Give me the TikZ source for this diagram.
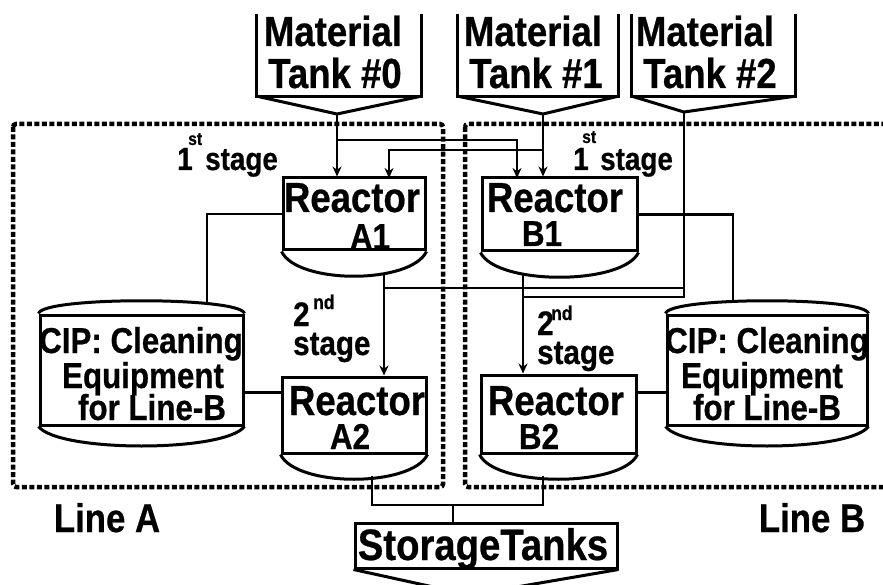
\documentclass[tikz,border=0pt]{standalone}
\usepackage{fontspec}
\newfontfamily\dfont{Liberation Sans}[FakeStretch=0.87, FakeBold=0.6]
\usetikzlibrary{arrows.meta,calc}
\tikzset{
 boxl/.style={line width=3pt, line join=miter},
 box/.style={draw, boxl, inner sep=0pt},
 ghost/.style={inner sep=0pt},
 conn/.style={line width=2.7pt},
 arr/.style={conn, -{Stealth[length=10pt,width=9pt]}},
 dashbox/.style={line width=4.5pt, dash pattern=on 5pt off 2.5pt, rounded corners=3pt},
 T/.style={font=\dfont\bfseries\fontsize{#1}{#1}\selectfont, inner sep=0pt, anchor=base},
}
\begin{document}
\begin{tikzpicture}[x=1pt,y=-1pt]
\useasboundingbox (0,0) rectangle (883,585);
% line boxes
\draw[dashbox] (13,124) rectangle (443,487);
\draw[dashbox] (465,124) rectangle (905,487);
% material tanks
\node[ghost, minimum width=164pt, minimum height=82pt] (T0) at (339,55) {};
\node[ghost, minimum width=160pt, minimum height=82pt] (T1) at (538,55) {};
\node[ghost, minimum width=163pt, minimum height=82pt] (T2) at (713.5,55) {};
\coordinate (T0tip) at (337,114);
\coordinate (T1tip) at (543,114);
\coordinate (T2tip) at (684,112);
\draw[boxl] (T0.north west) |- (T0.south east) -- (T0.north east);
\draw[boxl] (T0.south west) -- (T0tip) -- (T0.south east);
\draw[boxl] (T1.north west) |- (T1.south east) -- (T1.north east);
\draw[boxl] (T1.south west) -- (T1tip) -- (T1.south east);
\draw[boxl] (T2.north west) |- (T2.south east) -- (T2.north east);
\draw[boxl] (T2.south west) -- (T2tip) -- (T2.south east);
\node[T=42] at (333,46) {Material};
\node[T=42] at (335,88) {Tank \#0};
\node[T=42] at (533,46) {Material};
\node[T=42] at (536,88) {Tank \#1};
\node[T=42] at (705,46) {Material};
\node[T=42] at (710,88) {Tank \#2};
% reactors
\node[box, minimum width=142pt, minimum height=72pt] (A1) at (354,214) {};
\node[box, minimum width=155pt, minimum height=73pt] (B1) at (559.5,214.5) {};
\node[box, minimum width=144pt, minimum height=76pt] (A2) at (354,415) {};
\node[box, minimum width=155pt, minimum height=78pt] (B2) at (558.5,414) {};
\foreach \r in {A1,B1,A2,B2}
  \draw[boxl] (\r.south west) .. controls +(16,33) and +(-16,33) .. (\r.south east);
\node[T=42] at (352,212) {Reactor}; \node[T=36] at (370,249) {A1};
\node[T=42] at (555,212) {Reactor}; \node[T=36] at (542,246) {B1};
\node[T=42] at (357,415) {Reactor}; \node[T=36] at (350,449) {A2};
\node[T=42] at (556,415) {Reactor}; \node[T=36] at (539,449) {B2};
% CIP
\node[box, minimum width=203pt, minimum height=110pt] (CA) at (141.5,370) {};
\node[box, minimum width=200pt, minimum height=110pt] (CB) at (767,370) {};
\foreach \c in {CA,CB} {
  \draw[boxl] (\c.north west) .. controls +(4,-17) and +(-4,-17) .. (\c.north east);
  \draw[boxl] (\c.south west) .. controls +(20,26) and +(-20,26) .. (\c.south east);
}
\node[T=36] at (141,353) {CIP: Cleaning};
\node[T=36] at (143,388) {Equipment};
\node[T=36] at (152,420) {for Line-B};
\node[T=36] at (767,353) {CIP: Cleaning};
\node[T=36] at (762,388) {Equipment};
\node[T=36] at (767,420) {for Line-B};
% stage labels
\node[T=32, anchor=base west] at (177,170) {1};
\node[T=18, anchor=base west] at (188,145) {st};
\node[T=32, anchor=base west] at (205,170) {stage};
\node[T=34, anchor=base west] at (293,326) {2};
\node[T=20, anchor=base west] at (313,309) {nd};
\node[T=34, anchor=base west] at (293,355) {stage};
\node[T=32, anchor=base west] at (573,170) {1};
\node[T=18, anchor=base west] at (582,143) {st};
\node[T=32, anchor=base west] at (600,170) {stage};
\node[T=34, anchor=base west] at (537,335) {2};
\node[T=20, anchor=base west] at (551,320) {nd};
\node[T=34, anchor=base west] at (537,364) {stage};
% storage
\node[box, minimum width=262pt, minimum height=45pt] (ST) at (486,545.5) {};
\coordinate (STtip) at (470,595);
\draw[boxl] (ST.south west) -- (STtip) -- (ST.south east);
\node[T=44] at (483,560) {StorageTanks};
% line labels
\node[T=40] at (107,532) {Line A};
\node[T=40] at (812,532) {Line B};
% feed connectors
\coordinate (j0) at (337,140);
\coordinate (j1) at (543,150);
\coordinate (a1b) at (389,178);
\coordinate (b1a) at (517,178);
\draw[arr] (T0tip) -- (T0tip |- A1.north);
\draw[arr] (j0) -| (b1a);
\draw[arr] (T1tip) -- (T1tip |- B1.north);
\draw[arr] (j1) -| (a1b);
\coordinate (j2a) at (684,288);
\coordinate (j2b) at (684,297);
\coordinate (A1out) at (384,273);
\coordinate (B1out) at (523,275);
\draw[conn] (T2tip) -- (j2b) -- (j2b -| B1out);
\draw[conn] (j2a) -- (j2a -| A1out);
\draw[arr] (A1out) -- (A1out |- A2.north);
\draw[arr] (B1out) -- (B1out |- B2.north);
% CIP connectors
\coordinate (cAt) at (207,302);
\coordinate (cBt) at (733,302);
\draw[conn] (A1.west) -| (cAt);
\draw[conn] (B1.east) -| (cBt);
\draw[conn] ($(CA.north east)!0.7!(CA.south east)$) coordinate (ca) -- (ca -| A2.west);
\draw[conn] ($(CB.north west)!0.7!(CB.south west)$) coordinate (cb) -- (cb -| B2.east);
% to storage
\coordinate (A2out) at (372,476);
\coordinate (B2out) at (543,476);
\coordinate (jm) at (453,505);
\draw[conn] (A2out) |- (jm) -| (B2out);
\draw[conn] (jm) -- (jm |- ST.north);
\end{tikzpicture}
\end{document}
